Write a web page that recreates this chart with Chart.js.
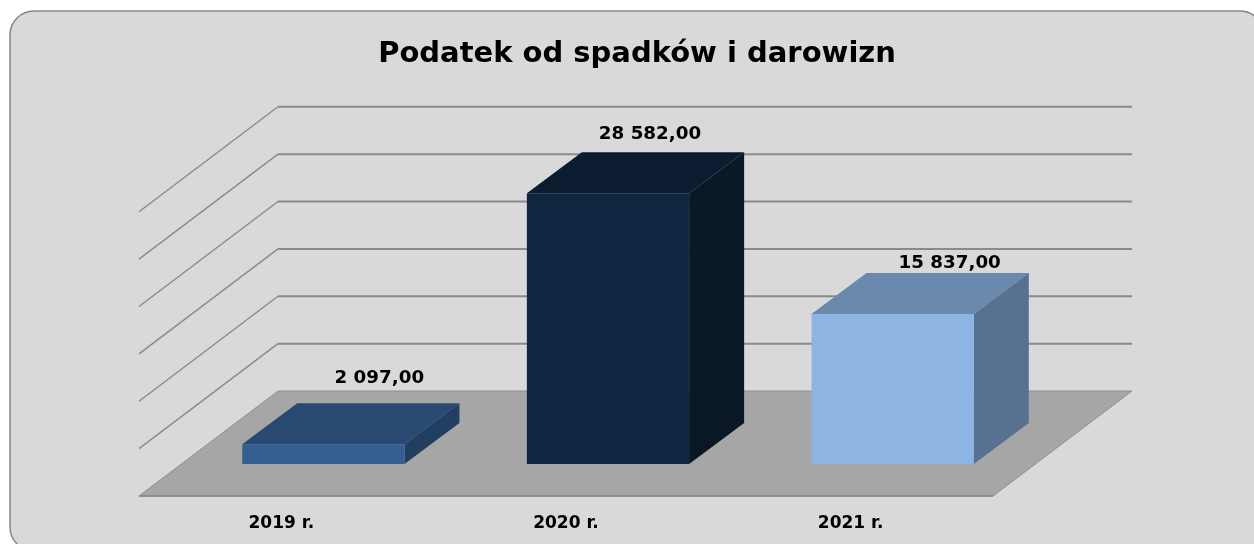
<!DOCTYPE html>
<html>
<head>
<meta charset="utf-8">
<style>
  html, body { margin: 0; padding: 0; background: #fff; }
  canvas { display: block; }
</style>
<script src="https://cdn.jsdelivr.net/npm/chart.js@4/dist/chart.umd.min.js"></script>
</head>
<body>
<canvas id="main-chart" width="1254" height="544"></canvas>
<script>
const chartTitle = "Podatek od spadków i darowizn";
const categories = ["2019 r.", "2020 r.", "2021 r."];
const values = [2097, 28582, 15837];
const valueLabels = ["2 097,00", "28 582,00", "15 837,00"];

const frontColors = ["#365f91", "#10253f", "#8eb4e3"];
const topColors = ["#294a70", "#0b1c30", "#6b88ad"];
const sideColors = ["#233f60", "#0a1725", "#587190"];
// labels were moved by hand in the original, offset from the bar's back top edge centre
const labelNudge = [[1, -25], [-13, -18], [2, -10]];

const FONT = "'DejaVu Sans', Verdana, sans-serif";
const depth = { x: 139, y: 105 };       // floor depth on screen
const barFront = { x: 42, y: 32 };      // how far back the bar's front face sits
const barDepth = { x: 55, y: 41 };      // bar's own depth

function poly(ctx, pts, fill) {
  ctx.beginPath();
  pts.forEach((p, i) => i ? ctx.lineTo(p[0], p[1]) : ctx.moveTo(p[0], p[1]));
  ctx.closePath();
  ctx.fillStyle = fill;
  ctx.fill();
}

const panel = {
  id: "panel",
  beforeDraw(chart) {
    const ctx = chart.ctx;
    ctx.save();
    ctx.beginPath();
    ctx.roundRect(10, 11, 1254, 540, 24);
    ctx.fillStyle = "#d9d9d9";
    ctx.fill();
    ctx.strokeStyle = "#868686";
    ctx.lineWidth = 1.5;
    ctx.stroke();
    ctx.restore();
  }
};

const box3d = {
  id: "box3d",
  beforeDatasetsDraw(chart) {
    const ctx = chart.ctx, xs = chart.scales.x, ys = chart.scales.y;
    const l = xs.left, r = xs.right, y0 = ys.getPixelForValue(0);

    // walls
    ctx.save();
    ctx.strokeStyle = "#8a8a8a";
    ys.ticks.forEach(t => {
      const y = ys.getPixelForValue(t.value);
      if (t.value === 0) return;
      ctx.lineWidth = 1.4;
      ctx.beginPath();
      ctx.moveTo(l, y);
      ctx.lineTo(l + depth.x, y - depth.y);
      ctx.stroke();
      ctx.lineWidth = 2;
      ctx.beginPath();
      ctx.moveTo(l + depth.x, y - depth.y);
      ctx.lineTo(r + depth.x, y - depth.y);
      ctx.stroke();
    });

    // floor
    const floor = [[l, y0], [l + depth.x, y0 - depth.y], [r + depth.x, y0 - depth.y], [r, y0]];
    poly(ctx, floor, "#a6a6a6");
    ctx.beginPath();
    floor.forEach((p, i) => i ? ctx.lineTo(p[0], p[1]) : ctx.moveTo(p[0], p[1]));
    ctx.closePath();
    ctx.lineWidth = 1;
    ctx.strokeStyle = "#8f8f8f";
    ctx.stroke();
    ctx.beginPath();
    ctx.moveTo(l, y0);
    ctx.lineTo(r, y0);
    ctx.lineWidth = 1.5;
    ctx.strokeStyle = "#868686";
    ctx.stroke();

    // top and side faces of the bars
    chart.getDatasetMeta(0).data.forEach((bar, i) => {
      const x1 = bar.x - bar.width / 2 + barFront.x;
      const x2 = bar.x + bar.width / 2 + barFront.x;
      const top = bar.y - barFront.y, bot = bar.base - barFront.y;
      poly(ctx, [[x1, top], [x1 + barDepth.x, top - barDepth.y], [x2 + barDepth.x, top - barDepth.y], [x2, top]], topColors[i]);
      poly(ctx, [[x2, top], [x2 + barDepth.x, top - barDepth.y], [x2 + barDepth.x, bot - barDepth.y], [x2, bot]], sideColors[i]);
    });
    ctx.restore();

    // front faces are the library's own bars, pushed back on the floor
    ctx.save();
    ctx.translate(barFront.x, -barFront.y);
  },
  afterDatasetsDraw(chart) {
    const ctx = chart.ctx;
    ctx.restore();

    ctx.save();
    ctx.font = "bold 18.3px " + FONT;
    ctx.fillStyle = "#000";
    ctx.textAlign = "center";
    ctx.textBaseline = "middle";
    chart.getDatasetMeta(0).data.forEach((bar, i) => {
      const x = bar.x + barFront.x + barDepth.x + labelNudge[i][0];
      const y = bar.y - barFront.y - barDepth.y + labelNudge[i][1];
      ctx.fillText(valueLabels[i], x, y);
    });
    ctx.restore();
  }
};

var config = {
  type: "bar",
  data: {
    labels: categories,
    datasets: [{
      data: values,
      backgroundColor: frontColors,
      borderWidth: 0,
      barPercentage: 0.57,
      categoryPercentage: 1,
      clip: false
    }]
  },
  options: {
    responsive: false,
    animation: false,
    layout: { padding: { left: 139, right: 119, top: 37, bottom: 0 } },
    plugins: {
      legend: { display: false },
      tooltip: { enabled: false },
      title: {
        display: true,
        text: chartTitle,
        color: "#000",
        font: { family: FONT, size: 29, weight: "bold", lineHeight: 1.2 },
        padding: { top: 0, bottom: 140 }
      }
    },
    scales: {
      x: {
        grid: { display: false },
        border: { display: false },
        ticks: { color: "#000", font: { family: FONT, size: 17, weight: "bold" }, padding: 9 },
        afterFit: s => { s.height = 48; }
      },
      y: {
        position: "right",
        min: 0,
        max: 30000,
        grid: { display: false },
        border: { display: false },
        ticks: { display: false, stepSize: 5000 },
        afterFit: s => { s.width = 142; }
      }
    }
  },
  plugins: [panel, box3d]
};

const myChart = new Chart(document.getElementById("main-chart"), config);
</script>
</body>
</html>
